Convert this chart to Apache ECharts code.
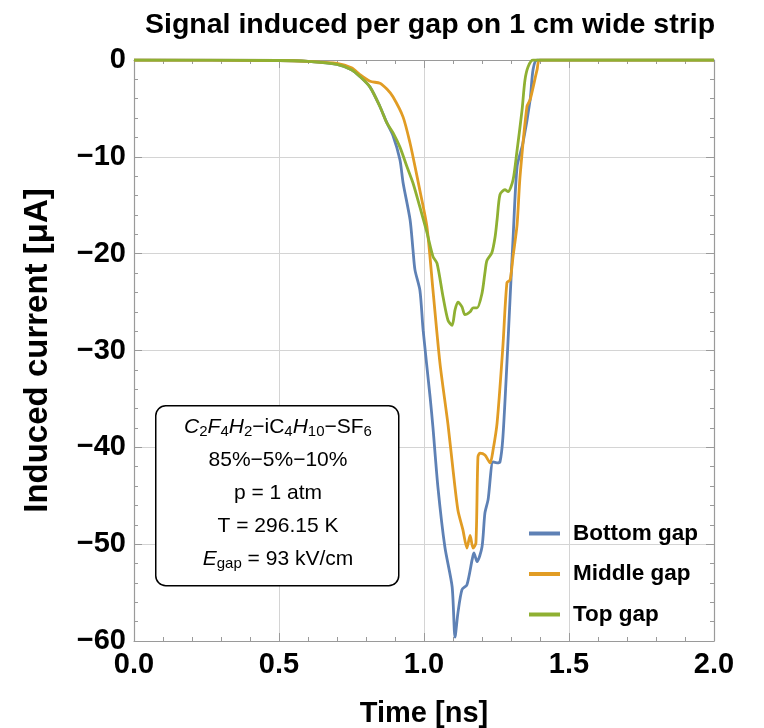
<!DOCTYPE html>
<html>
<head>
<meta charset="utf-8">
<script src="https://cdn.jsdelivr.net/npm/echarts@6/dist/echarts.min.js"></script>
<style>
  html, body { margin: 0; padding: 0; background: #fff; }
  #chart { width: 764px; height: 728px; }
</style>
</head>
<body>
<div id="chart"></div>
<script>
// values (time in ns, current in uA)
const bottomT = [0, 0.5, 0.6, 0.7, 0.75, 0.779, 0.814, 0.848, 0.872, 0.893, 0.917, 0.928, 0.952, 0.962, 0.969, 0.986, 0.997, 1.021, 1.031, 1.048, 1.072, 1.097, 1.107, 1.117, 1.131, 1.148, 1.166, 1.172, 1.183, 1.2, 1.21, 1.221, 1.238, 1.252, 1.262, 1.272, 1.286, 1.297, 1.307, 1.321, 1.341, 1.366, 1.376, 1.39, 2]
const bottomI = [0, -0.05, -0.15, -0.45, -1.0, -1.7, -2.8, -4.8, -6.5, -7.8, -10.3, -12.7, -16.5, -19.6, -21.7, -23.8, -27.9, -34.8, -38.0, -44.1, -50.3, -54.4, -59.6, -57.1, -54.7, -54.2, -51.6, -50.9, -51.8, -50.3, -46.8, -45.4, -41.5, -41.6, -41.5, -39.0, -31.3, -24.5, -18.5, -11.0, -8.6, -4.1, -1.0, 0, 0]

const middleT = [0, 0.5, 0.6, 0.7, 0.75, 0.779, 0.814, 0.848, 0.872, 0.893, 0.928, 0.952, 0.969, 0.986, 1.010, 1.031, 1.055, 1.083, 1.1, 1.117, 1.134, 1.148, 1.159, 1.169, 1.179, 1.186, 1.193, 1.21, 1.228, 1.238, 1.252, 1.272, 1.286, 1.297, 1.307, 1.321, 1.331, 1.355, 1.366, 1.39, 1.4, 2]
const middleI = [0, -0.05, -0.15, -0.35, -0.8, -1.5, -2.2, -2.4, -3.0, -3.8, -5.9, -8.6, -11.0, -13.5, -17.2, -23.8, -31.3, -37.7, -42.3, -46.5, -48.5, -50.4, -49.1, -50.4, -49.9, -41.0, -40.6, -40.8, -41.6, -40.3, -37.5, -29.6, -23.0, -22.7, -20.3, -17.0, -12.1, -4.8, -4.1, -1.0, 0, 0]

const topT = [0, 0.5, 0.6, 0.7, 0.75, 0.779, 0.814, 0.848, 0.872, 0.893, 0.917, 0.941, 0.962, 0.986, 1.010, 1.031, 1.045, 1.066, 1.083, 1.097, 1.107, 1.117, 1.131, 1.141, 1.159, 1.169, 1.183, 1.2, 1.21, 1.217, 1.234, 1.245, 1.252, 1.262, 1.279, 1.290, 1.307, 1.321, 1.338, 1.348, 1.359, 1.376, 2]
const topI = [0, -0.05, -0.15, -0.45, -1.0, -1.7, -2.8, -4.8, -6.5, -7.5, -9.0, -11.0, -12.7, -15.2, -17.8, -20.3, -21.0, -24.5, -26.9, -27.4, -25.8, -25.0, -25.5, -26.3, -26.0, -25.6, -25.6, -24.1, -22.0, -20.7, -19.9, -18.3, -16.5, -13.9, -13.4, -13.6, -12.4, -9.3, -5.2, -2.1, -0.7, 0, 0]

const seriesNames = ['Bottom gap', 'Middle gap', 'Top gap']
const seriesColors = ['#5e81b5', '#e19c24', '#8fb032']
const xTicks = [0, 0.5, 1.0, 1.5, 2.0]
const yTicks = [-60, -50, -40, -30, -20, -10, 0]

const zip = (t, v) => t.map((x, i) => [x, v[i]])
const curves = [zip(bottomT, bottomI), zip(middleT, middleI), zip(topT, topI)]

const font = '"Liberation Sans", Arial, sans-serif'
const frameColor = '#9a9a9a'
const gridColor = '#d4d4d4'

const minus = v => (v < 0 ? '\u2212' + Math.abs(v) : String(v))

const axisBase = {
  axisLine: { show: true, onZero: false, lineStyle: { color: frameColor, width: 1.2 } },
  axisTick: { show: true, inside: true, length: 8, lineStyle: { color: frameColor } },
  minorTick: { show: true, splitNumber: 5, length: 4, lineStyle: { color: frameColor } },
}

const chart = echarts.init(document.getElementById('chart'))
chart.setOption({
  animation: false,
  backgroundColor: '#fff',
  textStyle: { fontFamily: font },
  title: {
    text: 'Signal induced per gap on 1 cm wide strip',
    left: 140,
    top: 6,
    textStyle: { fontSize: 28.5, fontWeight: 'bold', color: '#000', fontFamily: font }
  },
  grid: { left: 134, right: 50, top: 60, bottom: 87, containLabel: false, outerBoundsMode: 'none' },
  legend: {
    orient: 'vertical',
    left: 524,
    top: 517,
    itemWidth: 31,
    itemHeight: 4,
    itemGap: 17.5,
    icon: 'rect',
    data: seriesNames,
    textStyle: { fontSize: 22.5, fontWeight: 'bold', color: '#000', fontFamily: font, padding: [0, 0, 0, 8] }
  },
  xAxis: [
    Object.assign({}, axisBase, {
      type: 'value',
      min: 0, max: 2, interval: 0.5,
      name: 'Time [ns]',
      nameLocation: 'middle',
      nameGap: 58,
      nameTextStyle: { fontSize: 29, fontWeight: 'bold', color: '#000', fontFamily: font },
      axisLabel: {
        margin: 9,
        fontSize: 29, fontWeight: 'bold', color: '#000', fontFamily: font,
        customValues: xTicks,
        formatter: v => v.toFixed(1)
      },
      splitLine: { show: true, lineStyle: { color: gridColor, width: 1 } }
    }),
    Object.assign({}, axisBase, {
      type: 'value', position: 'top',
      min: 0, max: 2, interval: 0.5,
      axisLabel: { show: false },
      splitLine: { show: false }
    })
  ],
  yAxis: [
    Object.assign({}, axisBase, {
      type: 'value',
      min: -60, max: 0, interval: 10,
      name: 'Induced current [\u03bcA]',
      nameLocation: 'middle',
      nameGap: 80,
      nameTextStyle: { fontSize: 33, fontWeight: 'bold', color: '#000', fontFamily: font },
      axisLabel: {
        margin: 8,
        fontSize: 29, fontWeight: 'bold', color: '#000', fontFamily: font,
        customValues: yTicks,
        formatter: minus
      },
      splitLine: { show: true, lineStyle: { color: gridColor, width: 1 } }
    }),
    Object.assign({}, axisBase, {
      type: 'value', position: 'right',
      min: -60, max: 0, interval: 10,
      axisLabel: { show: false },
      splitLine: { show: false }
    })
  ],
  graphic: [
    {
      type: 'rect',
      left: 155, top: 405,
      z: 100,
      shape: { width: 243, height: 180, r: 10 },
      style: { fill: '#fff', stroke: '#000', lineWidth: 1.5 }
    },
    {
      type: 'text',
      x: 278, y: 411,
      z: 101,
      style: {
        align: 'center',
        verticalAlign: 'top',
        fill: '#000',
        font: '21px ' + font,
        lineHeight: 33,
        text: [
          '{i|C}{s|2}{i|F}{s|4}{i|H}{s|2}\u2212iC{s|4}{i|H}{s|10}\u2212SF{s|6}',
          '85%\u22125%\u221210%',
          'p = 1 atm',
          'T = 296.15 K',
          '{i|E}{s|gap} = 93 kV/cm'
        ].join('\n'),
        rich: {
          i: { fontStyle: 'italic', fontSize: 21, fontFamily: font, lineHeight: 33 },
          s: { fontSize: 15, fontFamily: font, padding: [9, 0, 0, 0], lineHeight: 33 }
        }
      }
    }
  ],
  series: curves.map((d, k) => ({
    name: seriesNames[k],
    type: 'line',
    data: d,
    smooth: 0.25,
    showSymbol: false,
    symbol: 'none',
    z: 3 + k,
    lineStyle: { color: seriesColors[k], width: 2.8 },
    itemStyle: { color: seriesColors[k] }
  }))
})
</script>
</body>
</html>
